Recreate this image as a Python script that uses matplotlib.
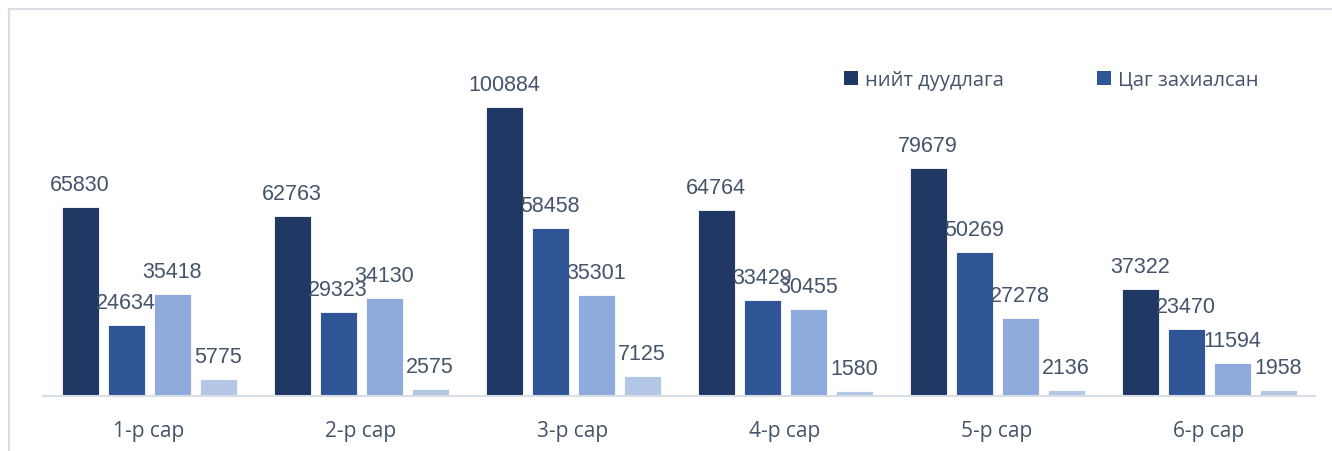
import matplotlib.pyplot as plt
import numpy as np
from matplotlib.patches import Patch

months = ['1-р сар', '2-р сар', '3-р сар', '4-р сар', '5-р сар', '6-р сар']
total_calls = [65830, 62763, 100884, 64764, 79679, 37322]
booked = [24634, 29323, 58458, 33429, 50269, 23470]
series_3 = [35418, 34130, 35301, 30455, 27278, 11594]
series_4 = [5775, 2575, 7125, 1580, 2136, 1958]

series = [total_calls, booked, series_3, series_4]
colors = ['#203864', '#2F5597', '#8FAADC', '#B4C7E7']
legend_names = ['нийт дуудлага', 'Цаг захиалсан']

label_color = '#44546A'
W, H = 1332, 452

fig = plt.figure(figsize=(W / 100, H / 100), dpi=100)

# light frame: only top and left edges fall inside the image
frame = fig.add_axes([8.5 / W, -0.05, 1.1, 1.05 - 9.5 / H])
frame.set_xticks([])
frame.set_yticks([])
for side, sp in frame.spines.items():
    sp.set_color('#D9DEE4')
    sp.set_linewidth(1.5)
frame.patch.set_alpha(0)

ax = fig.add_axes([43 / W, (H - 397) / H, 1272 / W, 344 / H])
ax.patch.set_alpha(0)

x = np.arange(len(months))
pitch = 46 / 212
width = 37 / 212
for i, (vals, c) in enumerate(zip(series, colors)):
    pos = x + (i - 1.5) * pitch
    ax.bar(pos, vals, width=width, color=c, edgecolor='white', linewidth=0.6, zorder=2)
    for p, v in zip(pos, vals):
        ax.text(p, v + 4200, str(v), ha='center', va='bottom', fontsize=15.5,
                family='Liberation Sans', color=label_color, zorder=3)

ax.set_xlim(-0.5, len(months) - 0.5)
ax.set_ylim(0, 120000)
ax.set_yticks([])
ax.set_xticks(x)
ax.set_xticklabels(months, fontsize=15, family='Open Sans', color=label_color)
ax.tick_params(axis='x', length=0, pad=17)
for side in ['top', 'right', 'left']:
    ax.spines[side].set_visible(False)
ax.spines['bottom'].set_color('#D9DEE4')
ax.spines['bottom'].set_linewidth(1.5)

handles = [Patch(facecolor=colors[i], label=legend_names[i]) for i in range(2)]
leg = fig.legend(handles=handles, loc='center left', bbox_to_anchor=(826 / W, 1 - 81 / H),
                 ncol=2, frameon=False, handlelength=0.7, handleheight=0.7,
                 handletextpad=0.35, columnspacing=4.6,
                 prop={'family': 'Open Sans', 'size': 14.5})
for t in leg.get_texts():
    t.set_color(label_color)

fig.savefig('out.png', dpi=100)
